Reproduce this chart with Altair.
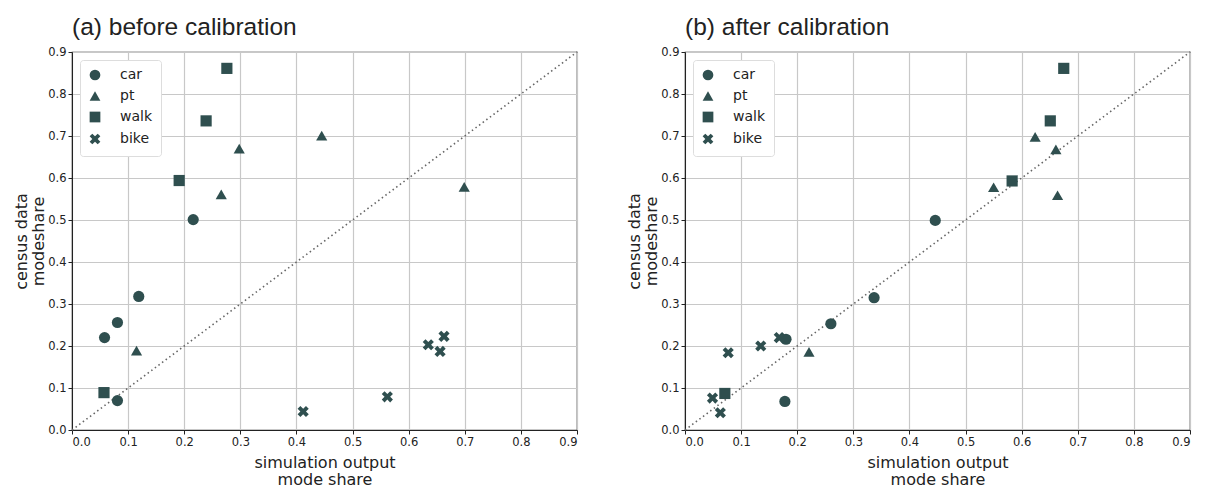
import altair as alt
import pandas as pd

modes = ["car", "pt", "walk", "bike"]

# (a) before calibration
a_car_x = [0.058, 0.081, 0.119, 0.216, 0.081]
a_car_y = [0.220, 0.256, 0.318, 0.501, 0.070]
a_pt_x = [0.115, 0.266, 0.298, 0.445, 0.699]
a_pt_y = [0.189, 0.561, 0.670, 0.701, 0.579]
a_walk_x = [0.057, 0.191, 0.239, 0.276]
a_walk_y = [0.089, 0.594, 0.736, 0.861]
a_bike_x = [0.412, 0.562, 0.635, 0.656, 0.663]
a_bike_y = [0.044, 0.079, 0.203, 0.187, 0.223]

# (b) after calibration
b_car_x = [0.180, 0.178, 0.260, 0.337, 0.446]
b_car_y = [0.216, 0.068, 0.253, 0.315, 0.499]
b_pt_x = [0.221, 0.550, 0.624, 0.661, 0.664]
b_pt_y = [0.186, 0.578, 0.698, 0.668, 0.559]
b_walk_x = [0.071, 0.583, 0.651, 0.675]
b_walk_y = [0.087, 0.593, 0.736, 0.861]
b_bike_x = [0.049, 0.063, 0.077, 0.135, 0.168]
b_bike_y = [0.076, 0.041, 0.184, 0.200, 0.220]

diag = [0.0, 0.9]
ticks = [0.0, 0.1, 0.2, 0.3, 0.4, 0.5, 0.6, 0.7, 0.8, 0.9]

COLOR = "#2F4F4F"
X_PATH = ("M-1,-0.5 L-0.5,-1 L0,-0.5 L0.5,-1 L1,-0.5 L0.5,0 L1,0.5 "
          "L0.5,1 L0,0.5 L-0.5,1 L-1,0.5 L-0.5,0 Z")


def frame(groups):
    rows = []
    for mode, (xs, ys) in zip(modes, groups):
        for x, y in zip(xs, ys):
            rows.append({"mode": mode, "sim": x, "census": y})
    return pd.DataFrame(rows)


def panel(df, title):
    xscale = alt.Scale(domain=[0, 0.9], nice=False)
    yscale = alt.Scale(domain=[0, 0.9], nice=False)
    xaxis = alt.Axis(values=ticks, format=".1f", titlePadding=7,
                     title=["simulation output", "mode share"])
    yaxis = alt.Axis(values=ticks, format=".1f", titlePadding=1,
                     title=["census data", "modeshare"])
    line_df = pd.DataFrame({"sim": diag, "census": diag})
    line = alt.Chart(line_df).mark_line(
        color="#666666", strokeDash=[1.5, 3], strokeWidth=1.6
    ).encode(
        x=alt.X("sim:Q", scale=xscale, axis=xaxis),
        y=alt.Y("census:Q", scale=yscale, axis=yaxis),
    )
    pts = alt.Chart(df).mark_point(filled=True, opacity=1, color=COLOR,
                                   size=125).encode(
        x=alt.X("sim:Q", scale=xscale, axis=xaxis),
        y=alt.Y("census:Q", scale=yscale, axis=yaxis),
        shape=alt.Shape(
            "mode:N",
            scale=alt.Scale(domain=modes,
                            range=["circle", "triangle-up", "square", X_PATH]),
            legend=alt.Legend(title=None, orient="top-left"),
        ),
    )
    return alt.layer(line, pts).properties(
        width=505, height=378,
        title=alt.TitleParams(title, anchor="start", frame="group",
                              font="Liberation Sans", fontSize=24.5,
                              fontWeight="normal", color="#222222",
                              offset=6),
    )


df_a = frame([(a_car_x, a_car_y), (a_pt_x, a_pt_y),
              (a_walk_x, a_walk_y), (a_bike_x, a_bike_y)])
df_b = frame([(b_car_x, b_car_y), (b_pt_x, b_pt_y),
              (b_walk_x, b_walk_y), (b_bike_x, b_bike_y)])

chart = alt.hconcat(
    panel(df_a, "(a) before calibration"),
    panel(df_b, "(b) after calibration"),
    spacing=45,
).resolve_scale(
    shape="independent"
).resolve_legend(
    shape="independent"
).configure_view(
    stroke="#222222", strokeWidth=1.2
).configure_axis(
    labelFont="DejaVu Sans", labelFontSize=11.5, labelColor="#222222",
    titleFont="DejaVu Sans", titleFontSize=16, titleFontWeight="normal",
    titleColor="#222222", titleLineHeight=17,
    gridColor="#c8c8c8", gridWidth=1.2,
    domainColor="#222222", tickColor="#222222", tickSize=4,
    labelPadding=2,
).configure_legend(
    labelFont="DejaVu Sans", labelFontSize=14, labelColor="#222222",
    fillColor="white", strokeColor="#dddddd", cornerRadius=3,
    padding=8, offset=8, rowPadding=4, labelOffset=18,
    symbolSize=115, symbolFillColor=COLOR, symbolStrokeColor=COLOR,
    symbolOpacity=1,
)

chart.save("out.html", embed_options={"renderer": "svg", "actions": False})
